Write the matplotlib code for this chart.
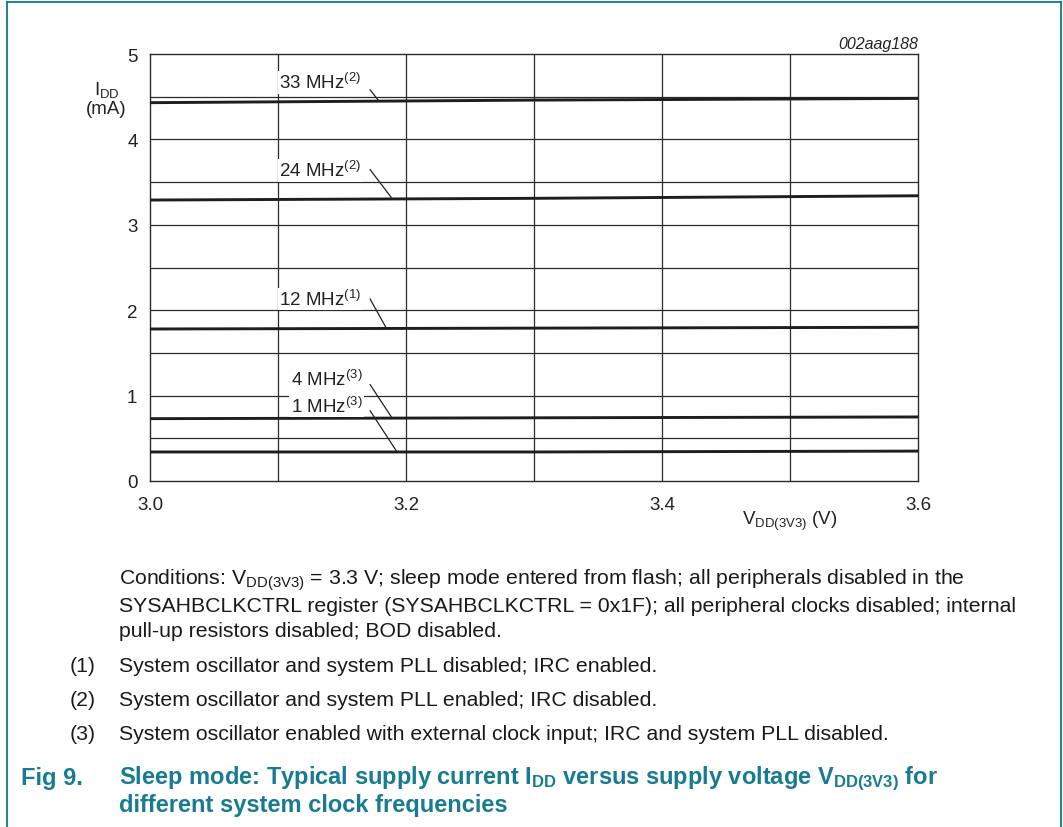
import matplotlib
matplotlib.use("Agg")
import matplotlib.pyplot as plt
from matplotlib.lines import Line2D

plt.rcParams['font.family'] = ['Liberation Sans', 'DejaVu Sans']
plt.rcParams['mathtext.fontset'] = 'custom'
plt.rcParams['mathtext.rm'] = 'Liberation Sans'
plt.rcParams['mathtext.it'] = 'Liberation Sans:italic'
plt.rcParams['mathtext.bf'] = 'Liberation Sans:bold'

# ---------------- data ----------------
voltage = [3.0, 3.3, 3.6]
idd_33mhz = [4.43, 4.46, 4.48]
idd_24mhz = [3.29, 3.31, 3.34]
idd_12mhz = [1.78, 1.79, 1.80]
idd_4mhz = [0.73, 0.74, 0.75]
idd_1mhz = [0.34, 0.34, 0.35]
series_labels = ["33 MHz", "24 MHz", "12 MHz", "4 MHz", "1 MHz"]
series_notes = ["2", "2", "1", "3", "3"]
x_ticklabels = ["3.0", "3.2", "3.4", "3.6"]
y_ticklabels = ["0", "1", "2", "3", "4", "5"]

# ---------------- layout ----------------
W, H = 1063, 828
fig = plt.figure(figsize=(W / 100, H / 100), dpi=100)

def px(x, y):
    return x / W, 1 - y / H

ax_l, ax_t, ax_r, ax_b = 150, 55, 918, 482
ax = fig.add_axes([ax_l / W, 1 - ax_b / H, (ax_r - ax_l) / W, (ax_b - ax_t) / H])
ax.set_xlim(3.0, 3.6)
ax.set_ylim(0, 5)

grid_c = '#2a2a2a'
for xv in [3.1, 3.2, 3.3, 3.4, 3.5]:
    ax.axvline(xv, color=grid_c, lw=0.9, zorder=1)
for yv in [0.5, 1, 1.5, 2, 2.5, 3, 3.5, 4, 4.5]:
    ax.axhline(yv, color=grid_c, lw=0.9, zorder=1)
for s in ax.spines.values():
    s.set_color(grid_c)
    s.set_linewidth(1.0)

curves = [idd_33mhz, idd_24mhz, idd_12mhz, idd_4mhz, idd_1mhz]
for c in curves:
    ax.plot(voltage, c, color='#1e1e1e', lw=2.1, zorder=3, solid_capstyle='butt')

lab_fs = 13.5
ax.set_xticks([3.0, 3.2, 3.4, 3.6])
ax.set_xticklabels(x_ticklabels)
ax.set_yticks([0, 1, 2, 3, 4, 5])
ax.set_yticklabels(y_ticklabels)
ax.tick_params(length=0, labelsize=lab_fs, colors='#222222')
ax.tick_params(axis='x', pad=11)
ax.tick_params(axis='y', pad=9)

# labels with leader lines (text position, leader start, leader end)
label_text_pos = [(3.101, 4.67), (3.101, 3.64), (3.101, 2.13), (3.110, 1.19), (3.110, 0.88)]
leader_start = [(3.172, 4.58), (3.172, 3.645), (3.172, 2.13), (3.172, 1.128), (3.172, 0.822)]
leader_end = [(3.179, 4.446), (3.189, 3.31), (3.185, 1.78), (3.189, 0.74), (3.193, 0.34)]
for lab, note, tp, ls, le in zip(series_labels, series_notes, label_text_pos, leader_start, leader_end):
    ax.text(tp[0], tp[1], lab + r"$^{\mathregular{(" + note + r")}}$", fontsize=lab_fs,
            ha='left', va='center', color='#222222', zorder=4,
            bbox=dict(facecolor='white', edgecolor='none', pad=1.0))
    ax.plot([ls[0], le[0]], [ls[1], le[1]], color='#222222', lw=0.9, zorder=5)

# axis labels
fig.text(*px(107, 90), r"I$_{\mathregular{DD}}$", fontsize=lab_fs, ha='center', va='center', color='#222222')
fig.text(*px(106, 110), "(mA)", fontsize=lab_fs, ha='center', va='center', color='#222222')
fig.text(*px(790, 521), r"V$_{\mathregular{DD(3V3)}}$ (V)", fontsize=lab_fs, ha='center', va='center', color='#222222')
fig.text(*px(918, 44), "002aag188", fontsize=11.5, style='italic', ha='right', va='center', color='#222222')

# caption
txt_c = '#1a1a1a'
fs = 15.3
cond_lines = [
    r"Conditions: V$_{\mathregular{DD(3V3)}}$ = 3.3 V; sleep mode entered from flash; all peripherals disabled in the",
    "SYSAHBCLKCTRL register (SYSAHBCLKCTRL = 0x1F); all peripheral clocks disabled; internal",
    "pull-up resistors disabled; BOD disabled.",
]
for i, line in enumerate(cond_lines):
    fig.text(*px(119, 580 + 26 * i), line, fontsize=fs, ha='left', va='center', color=txt_c)

notes = [
    ("(1)", "System oscillator and system PLL disabled; IRC enabled."),
    ("(2)", "System oscillator and system PLL enabled; IRC disabled."),
    ("(3)", "System oscillator enabled with external clock input; IRC and system PLL disabled."),
]
for i, (n, t) in enumerate(notes):
    y = 667 + 34 * i
    fig.text(*px(70, y), n, fontsize=fs, ha='left', va='center', color=txt_c)
    fig.text(*px(119, y), t, fontsize=fs, ha='left', va='center', color=txt_c)

teal = '#177b91'
fig.text(*px(21, 779), "Fig 9.", fontsize=17, fontweight='bold', ha='left', va='center', color=teal)
fig.text(*px(119, 779), r"Sleep mode: Typical supply current I$_{\mathregular{DD}}$ versus supply voltage V$_{\mathregular{DD(3V3)}}$ for",
         fontsize=17, fontweight='bold', ha='left', va='center', color=teal)
fig.text(*px(119, 806), "different system clock frequencies",
         fontsize=17, fontweight='bold', ha='left', va='center', color=teal)

# page border
border_c = '#0b7a8c'
for (x0, y0, x1, y1) in [(7, 2.5, 1061, 2.5), (7, 2.5, 7, 828), (1061, 2.5, 1061, 828)]:
    fig.add_artist(Line2D([x0 / W, x1 / W], [1 - y0 / H, 1 - y1 / H], color=border_c, lw=1.3,
                          transform=fig.transFigure))

fig.savefig("out.png", dpi=100)
